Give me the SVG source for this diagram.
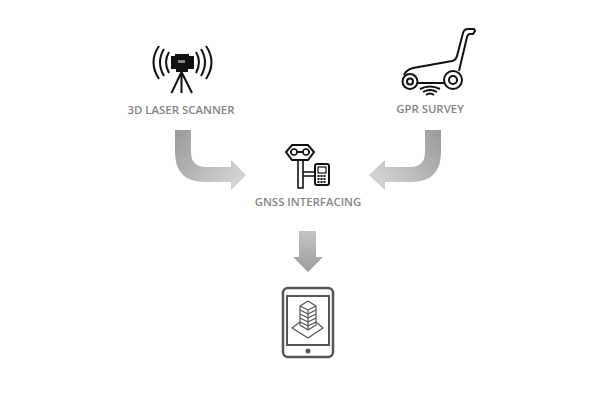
<svg xmlns="http://www.w3.org/2000/svg" width="605" height="416" viewBox="0 0 605 416">
<style>
.lbl{font-family:"Open Sans","Liberation Sans",sans-serif;font-size:11.4px;font-weight:600;fill:#858585;text-anchor:middle}
.k{fill:none;stroke:#111;stroke-width:2}
.t{fill:none;stroke:#555;stroke-width:1.2;stroke-linejoin:round}
</style>
<defs>
<linearGradient id="gl" x1="0" y1="0" x2="1" y2="0.6"><stop offset="0" stop-color="#9a9a9a"/><stop offset="1" stop-color="#d2d2d2"/></linearGradient>
<linearGradient id="gr" x1="1" y1="0" x2="0" y2="0.6"><stop offset="0" stop-color="#9a9a9a"/><stop offset="1" stop-color="#d2d2d2"/></linearGradient>
<linearGradient id="gd" x1="0" y1="0" x2="0" y2="1"><stop offset="0" stop-color="#c4c4c4"/><stop offset="1" stop-color="#9c9c9c"/></linearGradient>
</defs>
<rect width="605" height="416" fill="#fff"/>
<g id="connectors">
<path d="M175 130H191V152Q191 167 206 167H231V160L246 175L231 190V182H205Q175 182 175 152Z" fill="url(#gl)"/>
<path d="M441 130H425V152Q425 167 410 167H385V160L369 175L385 190V182H411Q441 182 441 152Z" fill="url(#gr)"/>
<path d="M299 231H316V257H323L308 272L293 257H299Z" fill="url(#gd)"/>
</g>
<g id="scanner">
<path d="M171 56H175V54H189V56H194V69H171Z" fill="#111"/>
<rect x="178" y="60" width="7" height="3" fill="#888"/>
<rect x="176" y="69" width="12" height="3" fill="#111"/>
<path d="M181.500 72L171.500 93M181.500 72V93M181.500 72L192 93" class="k" stroke-width="2.4"/>
<path d="M169 52Q163 62 169 73M164 49Q156 62 164 76M159 46Q148 62 159 79" class="k" stroke-width="2.400"/>
<path d="M196 52Q202 62 196 73M201 49Q209 62 201 76M206 46Q217 62 206 79" class="k" stroke-width="2.400"/>
<text x="181" y="114" class="lbl">3D LASER SCANNER</text>
</g>
<g id="gpr">
<circle cx="410" cy="81.500" r="7.500" class="k" stroke-width="2.200"/>
<circle cx="410" cy="81.500" r="3" class="k" stroke-width="1.800"/>
<circle cx="453" cy="80" r="9" class="k" stroke-width="2.200"/>
<circle cx="453" cy="80" r="4" class="k" stroke-width="1.800"/>
<path d="M404 75Q406 70 413 68L452 61Q456 60 457 56L463 33Q464 29 468 29H474L475 31L473 34H470Q468 34 467 37L459 71" class="k" stroke-width="1.600"/>
<path d="M418 83H444" class="k" stroke-width="1.600"/>
<path d="M420 89Q430 84 440 89M423 92Q430 88 437 92M426 95Q430 92 434 95" class="k" stroke-width="0.900"/>
<text x="430" y="113" class="lbl">GPR SURVEY</text>
</g>
<g id="gnss">
<path d="M292 145H308L314 152L308 160H292L286 152Z" class="k" stroke-width="2.200"/>
<path d="M290 152H310" class="k" stroke-width="3"/>
<circle cx="294" cy="152" r="3" fill="#fff" stroke="#111" stroke-width="1.500"/>
<circle cx="306" cy="152" r="3" fill="#fff" stroke="#111" stroke-width="1.500"/>
<path d="M298 160V188H303V160M303 172H315M303 176H315" fill="none" stroke="#111" stroke-width="1.600"/>
<rect x="315" y="164" width="14" height="21" rx="2" class="k" stroke-width="1.800"/>
<rect x="318" y="167" width="8" height="6" fill="none" stroke="#111" stroke-width="1.200"/>
<path d="M317.500 176h9M317.500 179h9M317.500 182h9" stroke="#111" stroke-width="2" stroke-dasharray="2 1" fill="none"/>
<text x="308" y="206" class="lbl">GNSS INTERFACING</text>
</g>
<g id="tablet">
<rect x="283" y="288" width="50" height="69" rx="5" fill="none" stroke="#555" stroke-width="2.500"/>
<rect x="287" y="296" width="42" height="49" fill="none" stroke="#555" stroke-width="2"/>
<circle cx="308" cy="351" r="2.500" fill="#555"/>
<path d="M300 322L292 328L308 338L323 328L316 322" class="t"/>
<path d="M300 306L308 301L316 306L308 310ZM300 306V325L308 330L316 325V306M308 310V330" class="t" fill="#fff"/>
<path d="M300 310L308 314L316 310M300 314L308 318L316 314M300 318L308 322L316 318M300 322L308 326L316 322" class="t"/>
</g>
</svg>
